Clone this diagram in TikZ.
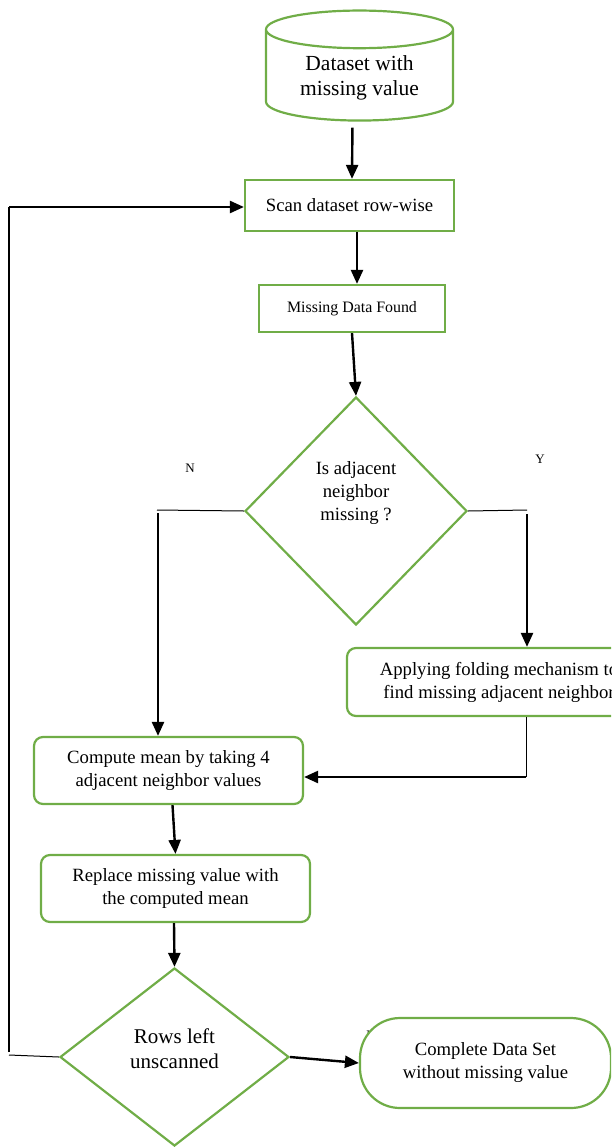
\documentclass[tikz,border=0pt]{standalone}
\usepackage{fontspec}
\setmainfont{Liberation Serif}
\usetikzlibrary{positioning, arrows.meta, shapes.geometric, calc}
\definecolor{boxGreen}{RGB}{112, 173, 71}

\begin{document}
\begin{tikzpicture}[
    x=1pt, y=-1pt,
    every node/.style={font=\fontsize{18.7}{23}\selectfont},
    procbox/.style={
        rectangle, draw=boxGreen, line width=2.2pt, align=center, inner sep=2pt
    },
    roundbox/.style={procbox, rounded corners=9pt},
    decision/.style={diamond, draw=boxGreen, line width=2.2pt, inner sep=0pt},
    flag/.style={font=\fontsize{13}{15}\selectfont},
    arrow/.style={-{Triangle[length=14pt, width=12pt]}, line width=2.4pt},
    thinline/.style={line width=1pt}
]
\useasboundingbox (0,0) rectangle (611,1148);
\clip (0,0) rectangle (611,1148);

% --- Top: input data and scanning ------------------------------------------
\node[cylinder, shape border rotate=90, aspect=0.3, draw=boxGreen, line width=2.2pt,
      minimum width=187pt, minimum height=110pt, align=center,
      font=\fontsize{21.5}{25}\selectfont] (data) at (359.5,78) {Dataset with\\missing value};
\node[procbox, minimum width=209pt, minimum height=51pt] (scan) at (349.5,205.5) {Scan dataset row-wise};
\node[procbox, minimum width=186pt, minimum height=47pt,
      font=\fontsize{15.9}{19}\selectfont] (found) at (352,308.5) {Missing Data Found};

% --- Middle: neighbour check -----------------------------------------------
\node[decision, minimum width=222pt, minimum height=228pt,
      label={[align=center, yshift=18pt]center:Is adjacent\\neighbor\\missing ?}] (adj) at (356,511) {};
\node[flag] (no) at (190,468) {N};
\node[flag] (yes) at (540,459) {Y};
\node[roundbox, minimum width=304pt, minimum height=68pt] (fold) at (499,682)
    {Applying folding mechanism to\\find missing adjacent neighbor};
\node[roundbox, minimum width=269pt, minimum height=67pt] (comp) at (168.5,770.5)
    {Compute mean by taking 4\\adjacent neighbor values};
\node[roundbox, minimum width=269pt, minimum height=67pt] (repl) at (175.5,888.5)
    {Replace missing value with\\the computed mean};

% --- Bottom: loop test and result ------------------------------------------
\node[decision, minimum width=229pt, minimum height=178pt,
      label={[align=center, yshift=8pt, font=\fontsize{21}{25}\selectfont]center:Rows left\\unscanned}] (rows) at (174.5,1057) {};
\node[flag] (no2) at (371,1035) {N};
\node[procbox, rounded corners=40pt, fill=white, minimum width=251pt, minimum height=90pt] (done) at (485.5,1063)
    {Complete Data Set\\without missing value};

% --- Arrows ---------------------------------------------------------------
\coordinate (nbend) at (157,510);
\coordinate (ndrop) at (158,513);
\coordinate (ybend) at (527,510);
\coordinate (fbend) at (526,777);
\coordinate (loopA) at (9,1055);
\coordinate (loopB) at (9,207);

\draw[arrow, shorten <=6pt] ([xshift=-7pt]data.south) -- ([xshift=2.5pt]scan.north);
\draw[arrow] ([xshift=7.5pt]scan.south) -- ([xshift=5pt]found.north);
\draw[arrow] (found.south) -- (adj.north);
% N branch on the left, Y branch on the right
\draw[thinline] (adj.west) -- (nbend);
\draw[arrow] (ndrop) -- (ndrop |- comp.north);
\draw[thinline] (adj.east) -- (ybend);
\draw[arrow] ([yshift=-4pt]ybend) -- (ybend |- fold.north);
\draw[thinline] ([xshift=27pt]fold.south) -- (fbend);
\draw[arrow] (fbend) -- (fbend -| comp.east);
\draw[arrow] ([xshift=4pt]comp.south) -- (repl.north);
\draw[arrow] ([xshift=-1.5pt]repl.south) -- (rows.north);
\draw[arrow] (rows.east) -- (done.west);
% loop back to scanning
\draw[thinline] (rows.west) -- (loopA);
\draw[line width=1.3pt] ([yshift=3pt]loopA) -- (loopB);
\draw[arrow] (loopB) -- (loopB -| scan.west);

\end{tikzpicture}
\end{document}
